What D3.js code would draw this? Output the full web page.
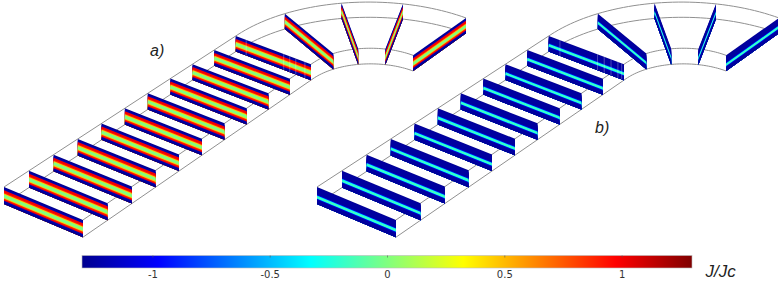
<!DOCTYPE html>
<html>
<head>
<meta charset="utf-8">
<script src="https://cdn.jsdelivr.net/npm/d3@7"></script>
<style>
  body { margin: 0; background: #fff; }
  text { font-family: "Liberation Sans", sans-serif; }
</style>
</head>
<body>
<div id="chart"></div>
<script>
// step 1. DATA
// cut positions along the straight part of the coil, and angles (deg) round the bend
const straightCuts = [0, 1, 2, 3, 4, 5, 6, 7, 8, 9, 10];
const bendAngles = [22, 43.5, 65.5, 90];
// J/Jc through the thickness of the tape, top to bottom
const profileA = [-1.3, -1.25, -1.2, 1.0, 1.0, 0.9, 0.45, 0.0, 0.0, 0.0, 0.45, 0.9, 1.0, -1.2, -1.25, -1.3];
const profileB = [-1.28, -1.25, -1.25, -1.25, -1.25, -1.25, -1.25, -1.1, -0.35, -0.1, -0.3, -1.1, -1.25, -1.25, -1.25, -1.28];
// mesh lines that show on the last straight cut (fraction of the width)
const meshA = [0.14, 0.64, 0.72, 0.8, 0.92];
const meshB = [0.15, 0.65, 0.74, 0.83, 0.92, 0.97];
const tickValues = [-1, -0.5, 0, 0.5, 1];
const panels = [
  { name: "a)", profile: profileA, mesh: meshA, dx: 0 },
  { name: "b)", profile: profileB, mesh: meshB, dx: 313 }
];

// step 2. SCALES
const width = 778, height = 282;
const jet = d3.scaleLinear()
  .domain([-1.3, -0.975, -0.325, 0.325, 0.975, 1.3])
  .range(["#00008f", "#0000ff", "#00ffff", "#ffff00", "#ff0000", "#800000"]);
const xBar = d3.scaleLinear().domain([-1.3, 1.3]).range([82, 692]);

// camera: cut position s, across-tape y (0 outer, 1 inner), z 1 at the top of the tape
function project(s, y, z, dx) {
  const w = 1 + 0.009 * s - 0.013 * y;
  return [
    dx + (4 + 25.3 * s + 77.9 * y) / w,
    (187 + -14.78 * s + 30.1 * y + 17 * (1 - z)) / w
  ];
}
// the bend: centre and radii in tape widths, one width = 2.72 cut spacings
const bend = { s0: 10.1, y0: 1.76, inner: 0.76, aspect: 2.72 };
function bendPoint(angle, y) {
  const r = bend.inner + 1 - y;
  const t = angle * Math.PI / 180;
  return [bend.s0 + r * Math.sin(t) * bend.aspect, bend.y0 - r * Math.cos(t)];
}
// a cut is a straight segment from outer to inner edge
function cutEnds(cut) {
  return cut.kind === "straight"
    ? [[cut.at, 0], [cut.at, 1]]
    : [bendPoint(cut.at, 0), bendPoint(cut.at, 1)];
}

// step 3. SVG
const svg = d3.select("#chart").append("svg")
  .attr("width", width)
  .attr("height", height);

// the original is a slightly soft bitmap
const defs = svg.append("defs");
defs.append("filter").attr("id", "soft")
  .append("feGaussianBlur").attr("stdDeviation", 0.3);

const line = d3.line();
const cuts = straightCuts.map(d => ({ kind: "straight", at: d }))
  .concat(bendAngles.map(d => ({ kind: "bend", at: d })));

panels.forEach(p => {
  const g = svg.append("g").attr("filter", "url(#soft)");

  // rails: outer and inner edge, top and bottom
  [[0, 1], [0, 0], [1, 1], [1, 0]].forEach(([y, z]) => {
    const pts = [project(0, y, z, p.dx), project(bend.s0, y, z, p.dx)];
    d3.range(0, 90.5, 2).forEach(a => {
      const b = bendPoint(a, y);
      pts.push(project(b[0], b[1], z, p.dx));
    });
    g.append("path")
      .attr("d", line(pts))
      .attr("fill", "none")
      .attr("stroke", "#909090")
      .attr("stroke-width", 1);
  });

  // the cuts: each strip runs down to the bottom edge and the next one
  // paints over it, so no seams show between strips
  cuts.forEach(cut => {
    const [a, b] = cutEnds(cut);
    const n = p.profile.length;
    g.append("g").selectAll("polygon")
      .data(p.profile)
      .join("polygon")
      .attr("points", (v, i) => {
        const z1 = 1 - i / n;
        return [
          project(a[0], a[1], z1, p.dx), project(b[0], b[1], z1, p.dx),
          project(b[0], b[1], 0, p.dx), project(a[0], a[1], 0, p.dx)
        ].join(" ");
      })
      .attr("fill", v => jet(v));
  });

  // mesh lines on the last straight cut
  const last = cutEnds(cuts[straightCuts.length - 1]);
  g.append("g").selectAll("path")
    .data(p.mesh)
    .join("path")
    .attr("d", f => {
      const s = last[0][0] + f * (last[1][0] - last[0][0]);
      const y = last[0][1] + f * (last[1][1] - last[0][1]);
      return line([project(s, y, 1, p.dx), project(s, y, 0, p.dx)]);
    })
    .attr("stroke", "#fff")
    .attr("stroke-opacity", 0.4)
    .attr("stroke-width", 0.7);
});

// panel letters
svg.append("text").attr("x", 150).attr("y", 56).text("a)")
  .attr("font-size", 16).attr("font-style", "italic").attr("fill", "#222");
svg.append("text").attr("x", 595).attr("y", 133).text("b)")
  .attr("font-size", 16).attr("font-style", "italic").attr("fill", "#222");

// step 4. COLOUR BAR
const grad = defs.append("linearGradient").attr("id", "jet");
grad.selectAll("stop")
  .data(jet.domain())
  .join("stop")
  .attr("offset", d => (xBar(d) - 82) / (692 - 82))
  .attr("stop-color", d => jet(d));

svg.append("rect")
  .attr("x", xBar(-1.3))
  .attr("y", 255.5)
  .attr("width", xBar(1.3) - xBar(-1.3))
  .attr("height", 12.5)
  .attr("fill", "url(#jet)")
  .attr("stroke", "#bbb")
  .attr("stroke-width", 0.6);

const axis = d3.axisBottom(xBar).tickValues(tickValues).tickSize(0).tickPadding(3)
  .tickFormat(d => String(d));
svg.append("g")
  .attr("transform", "translate(0,268)")
  .call(axis)
  .call(s => s.select(".domain").remove())
  .call(s => s.selectAll("text").attr("font-size", 10).attr("fill", "#333").style("font-family", '"DejaVu Sans", sans-serif'));

// little marks at the top of the bar
svg.append("g")
  .attr("transform", "translate(0,255.5)")
  .call(d3.axisBottom(xBar).tickValues(tickValues).tickSize(2).tickFormat(""))
  .call(s => s.select(".domain").remove())
  .call(s => s.selectAll("line").attr("stroke", "#555").attr("stroke-opacity", 0.6));

svg.append("text").attr("x", 705.5).attr("y", 277).text("J/Jc")
  .attr("font-size", 17).attr("font-style", "italic").attr("fill", "#222");
</script>
</body>
</html>
